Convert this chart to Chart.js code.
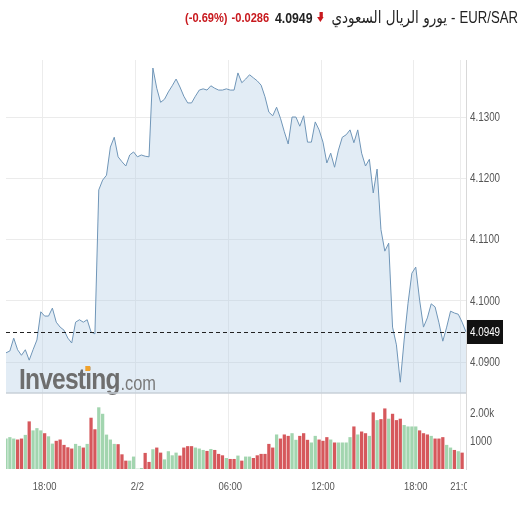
<!DOCTYPE html>
<html><head><meta charset="utf-8">
<script src="https://cdn.jsdelivr.net/npm/chart.js@4.4.1/dist/chart.umd.min.js"></script>
<style>
html,body{margin:0;padding:0;background:#fff;}
#wrap{position:relative;width:520px;height:520px;overflow:hidden;background:#fff;}
#title{position:absolute;right:2px;top:8px;display:flex;align-items:center;white-space:nowrap;direction:ltr;
 transform:scaleX(0.82);transform-origin:right center;
 font-family:'Liberation Sans',Arial,sans-serif;font-size:13.5px;color:#222;}
#title span{margin-left:5px;}
#title .red{color:#c8191e;font-weight:bold;}
#title .b{font-weight:bold;font-size:15px;margin-left:7px;}
#title .arrow{display:inline-block;width:9px;height:11px;position:relative;margin-left:6px;}
#title .arrow:before{content:"";position:absolute;left:3px;top:0;width:3.5px;height:6px;background:#c8191e;}
#title .arrow:after{content:"";position:absolute;left:0;top:5px;border-left:4.5px solid transparent;border-right:4.5px solid transparent;border-top:5.5px solid #c8191e;}
#title .loc{margin-left:8px;font-size:16.5px;font-family:'DejaVu Sans','Liberation Sans',sans-serif;}
#title .dash{margin-left:5px;font-size:16px;}
#title .sym{margin-left:5px;font-size:16px;}
canvas{position:absolute;left:0;top:0;}
</style></head>
<body>
<div id="wrap">
<canvas id="c" width="520" height="520"></canvas>
<div id="title"><span class="red" id="tPct"></span><span class="red" id="tChg"></span><span class="b" id="tLast"></span><span class="arrow"></span><span class="loc" id="tLoc" dir="rtl"></span><span class="dash">-</span><span class="sym" id="tSym"></span></div>
</div>
<script>
// ---- data ----
const pairSymbol = 'EUR/SAR';
const pairLocal = 'يورو الريال السعودي';
const lastPrice = 4.0949;
const changeText = '-0.0286';
const changePctText = '(-0.69%)';

// 15-minute categories, 15:30 (day 1) to 21:15 (day 2)
const times = [];
for (let k = 0; k < 120; k++) {
  const m = (15 * 60 + 30 + k * 15) % (24 * 60);
  times.push(String(Math.floor(m / 60)).padStart(2, '0') + ':' + String(m % 60).padStart(2, '0'));
}

const prices = [
 4.0915,4.0918,4.0939,4.0920,4.0911,4.0920,4.0903,4.0920,4.0936,4.0982,
 4.0975,4.0975,4.0988,4.0965,4.0957,4.0952,4.0939,4.0931,4.0965,4.0969,
 4.0965,4.0969,4.0949,4.0946,4.1181,4.1197,4.1205,4.1251,4.1267,4.1235,
 4.1227,4.1220,4.1238,4.1243,4.1235,4.1238,4.1236,4.1235,4.1380,4.1347,
 4.1324,4.1329,4.1341,4.1351,4.1362,4.1349,4.1334,4.1323,4.1323,4.1334,
 4.1344,4.1346,4.1344,4.1351,4.1347,4.1344,4.1344,4.1346,4.1344,4.1344,
 4.1372,4.1356,4.1362,4.1369,4.1364,4.1359,4.1352,4.1333,4.1308,4.1302,
 4.1316,4.1298,4.1276,4.1256,4.1300,4.1300,4.1285,4.1302,4.1259,4.1259,
 4.1292,4.1279,4.1259,4.1225,4.1241,4.1218,4.1246,4.1267,4.1271,4.1279,
 4.1258,4.1279,4.1241,4.1220,4.1231,4.1176,4.1215,4.1116,4.1081,4.1094,
 4.0957,4.0928,4.0867,4.0936,4.0996,4.1045,4.1055,4.1001,4.0957,4.0972,
 4.0995,4.0990,4.0964,4.0934,4.0957,4.0983,4.0980,4.0978,4.0965,4.0949
];

const volumes = [
 1070,1120,1070,1035,1070,1200,1680,1360,1440,1360,
 1260,1150,890,990,1035,845,760,715,880,810,
 750,880,1810,1400,2180,1950,1210,1035,880,870,
 510,285,285,430,0,25,560,240,690,750,
 570,330,620,475,570,465,750,800,800,750,
 715,665,630,700,665,525,475,380,345,345,
 465,285,430,430,380,475,525,525,880,750,
 1215,1070,1215,1165,1260,1025,1165,1260,1025,930,
 1165,1035,990,1120,1035,930,930,930,930,1120,
 1500,1215,1320,1260,1165,2000,1725,1760,2140,1775,
 1950,1725,1775,1550,1500,1500,1500,1360,1260,1215,
 1165,1070,1070,1120,845,750,665,620,570,null
];

const volDir = [
 'u','u','u','d','d','u','d','u','u','u',
 'd','u','u','d','d','d','d','d','u','u',
 'd','u','d','d','u','u','u','u','u','d',
 'd','d','u','u','u','u','d','d','u','d',
 'd','u','u','u','u','d','d','d','d','u',
 'u','u','d','u','d','d','d','u','d','d',
 'u','d','u','u','d','d','d','d','d','d',
 'u','d','d','d','u','u','d','d','d','u',
 'u','d','d','d','u','d','u','u','u','u',
 'd','u','d','d','u','d','u','d','d','u',
 'd','d','d','u','u','u','u','d','d','d',
 'u','d','d','d','u','u','d','u','d','d'
];

const priceTicks = [4.09, 4.10, 4.11, 4.12, 4.13];
const volTicks = [1000, 2000];
const volTickLabels = ['1000', '2.00k'];
const xTickIdx = [10, 34, 58, 82, 106, 118];
const xTickLabels = ['18:00', '2/2', '06:00', '12:00', '18:00', '21:00'];

// ---- title ----
document.getElementById('tPct').textContent = changePctText;
document.getElementById('tChg').textContent = changeText;
document.getElementById('tLast').textContent = lastPrice.toFixed(4);
document.getElementById('tLoc').textContent = pairLocal;
document.getElementById('tSym').textContent = pairSymbol;

const FONT = "'Liberation Sans',Arial,sans-serif";
const NARROW = 0.82;
const UP = '#a2d5af', DOWN = '#d6585c';

function narrowText(ctx, text, x, y, align) {
  ctx.save();
  ctx.translate(x, y);
  ctx.scale(NARROW, 1);
  ctx.textAlign = align;
  ctx.fillText(text, 0, 0);
  ctx.restore();
}

const overlay = {
  id: 'overlay',
  afterDatasetsDraw(chart) {
    const {ctx, chartArea, scales} = chart;
    const y = scales.y;
    ctx.save();
    // watermark
    const wx = chartArea.left + 13, wy = y.bottom - 4;
    ctx.save();
    ctx.translate(wx, wy);
    ctx.scale(0.82, 1);
    ctx.textBaseline = 'alphabetic';
    ctx.textAlign = 'left';
    ctx.font = "bold 30px " + FONT;
    ctx.letterSpacing = '-1px';
    ctx.fillStyle = '#6e6e6e';
    ctx.fillText('Investing', 0, 0);
    const w1 = ctx.measureText('Investing').width;
    const wInv = ctx.measureText('Invest').width;
    const wi = ctx.measureText('i').width;
    ctx.fillStyle = '#f0a12b';
    ctx.fillRect(wInv + wi / 2 - 3.5, -23, 6, 5);
    ctx.letterSpacing = '0px';
    ctx.font = "20px " + FONT;
    ctx.fillStyle = '#7a7a7a';
    ctx.fillText('.com', w1 + 1, 1);
    ctx.restore();
    // bottom border of price panel
    ctx.strokeStyle = '#c9d0d8';
    ctx.lineWidth = 1.5;
    ctx.beginPath();
    ctx.moveTo(chartArea.left, Math.round(y.bottom));
    ctx.lineTo(chartArea.right, Math.round(y.bottom));
    ctx.stroke();
    // dashed last-price line
    const py = Math.round(y.getPixelForValue(lastPrice)) + 0.5;
    ctx.setLineDash([4, 3]);
    ctx.strokeStyle = '#222';
    ctx.lineWidth = 1;
    ctx.beginPath();
    ctx.moveTo(chartArea.left, py);
    ctx.lineTo(chartArea.right, py);
    ctx.stroke();
    ctx.restore();
  },
  afterDraw(chart) {
    const {ctx, chartArea, scales} = chart;
    const y = scales.y, yv = scales.yv, x = scales.x;
    ctx.save();
    ctx.font = "12px " + FONT;
    ctx.textBaseline = 'middle';
    ctx.fillStyle = '#555';
    // right axis labels (narrow)
    y.ticks.forEach(t => narrowText(ctx, t.label, y.left + 4, y.getPixelForValue(t.value) + 0.5, 'left'));
    yv.ticks.forEach(t => narrowText(ctx, t.label, yv.left + 4, yv.getPixelForValue(t.value) + 0.5, 'left'));
    // last price box
    const py = y.getPixelForValue(lastPrice);
    ctx.fillStyle = '#111';
    ctx.fillRect(chartArea.right + 1, py - 12, 36, 24);
    ctx.fillStyle = '#fff';
    narrowText(ctx, lastPrice.toFixed(4), chartArea.right + 4, py + 0.5, 'left');
    // x tick labels, clipped at the plot edge
    ctx.beginPath();
    ctx.rect(0, chartArea.bottom + 1, chartArea.right + 1, 60);
    ctx.clip();
    ctx.fillStyle = '#555';
    ctx.font = "11.5px " + FONT;
    xTickIdx.forEach((idx, k) => {
      narrowText(ctx, xTickLabels[k], x.getPixelForValue(idx), chartArea.bottom + 18, 'center');
    });
    ctx.restore();
  }
};

new Chart(document.getElementById('c'), {
  data: {
    labels: times,
    datasets: [
      {
        type: 'line', data: prices, yAxisID: 'y',
        borderColor: '#7096b8', borderWidth: 1, pointRadius: 0, tension: 0,
        fill: 'start', backgroundColor: 'rgba(176,201,228,0.36)', order: 1
      },
      {
        type: 'bar', data: volumes, yAxisID: 'yv',
        backgroundColor: volDir.map(d => d === 'u' ? UP : DOWN),
        barThickness: 2.6, order: 2
      }
    ]
  },
  options: {
    responsive: false, animation: false, devicePixelRatio: 1,
    layout: { padding: { top: 60, left: 6, right: 0, bottom: 51 } },
    plugins: { legend: { display: false }, tooltip: { enabled: false }, title: { display: false } },
    scales: {
      x: {
        type: 'category', offset: false,
        ticks: { display: false, autoSkip: false },
        grid: { drawTicks: false, color: c => xTickIdx.includes(c.index) ? '#ececec' : 'rgba(0,0,0,0)' },
        border: { display: false }
      },
      y: {
        type: 'linear', position: 'right', stack: 'right', stackWeight: 333,
        min: 4.08494, max: 4.13931,
        afterBuildTicks: s => { s.ticks = priceTicks.map(v => ({ value: v })); },
        afterFit: s => { s.width = 54; },
        ticks: { callback: v => Number(v).toFixed(4), color: 'rgba(0,0,0,0)', padding: 4, font: { family: FONT, size: 12 } },
        grid: { drawTicks: false, color: '#ebebeb' },
        border: { display: true, color: '#d8d8d8' }
      },
      yv: {
        type: 'linear', position: 'right', stack: 'right', stackWeight: 76,
        min: 0, max: 2700,
        afterBuildTicks: s => { s.ticks = volTicks.map(v => ({ value: v })); },
        afterFit: s => { s.width = 54; },
        ticks: { callback: v => volTickLabels[volTicks.indexOf(v)], color: 'rgba(0,0,0,0)', padding: 4, font: { family: FONT, size: 12 } },
        grid: { display: false, drawTicks: false },
        border: { display: true, color: '#d8d8d8' }
      }
    }
  },
  plugins: [overlay]
});
</script>
</body></html>
